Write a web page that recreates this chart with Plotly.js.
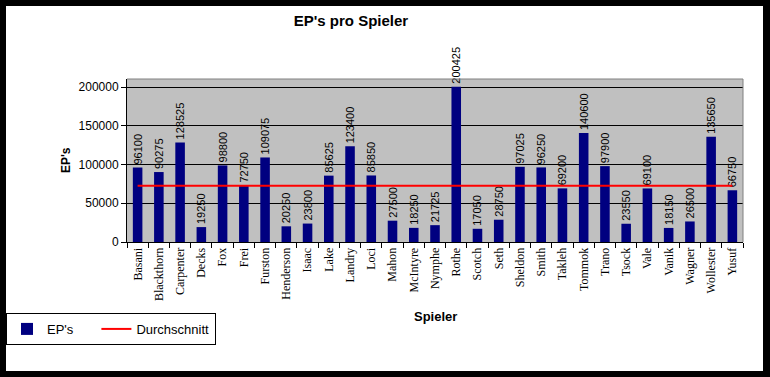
<!DOCTYPE html>
<html>
<head>
<meta charset="utf-8">
<script src="https://cdn.plot.ly/plotly-3.0.1.min.js"></script>
<style>
html,body{margin:0;padding:0;background:#fff;}
#wrap{width:770px;height:377px;box-sizing:border-box;border-style:solid;border-color:#000;border-width:6px 7px 6px 6px;background:#fff;overflow:hidden;}
#plot{width:757px;height:365px;}
</style>
</head>
<body>
<div id="wrap"><div id="plot"></div></div>
<script>
const spieler = ["Basani","Blackthorn","Carpenter","Decks","Fox","Frei","Furston","Henderson","Isaac","Lake","Landry","Loci","Mahon","McIntyre","Nymphe","Rothe","Scotch","Seth","Sheldon","Smith","Takleh","Tommok","Trano","Tsock","Vale","Vanik","Wagner","Wollester","Yusuf"];
const eps = [96100,90275,128525,19250,98800,72750,109075,20250,23800,85625,123400,85850,27500,18250,21725,200425,17050,28750,97025,96250,69200,140600,97900,23550,69100,18150,26500,135650,66750];
const durchschnitt = [72692,72692,72692,72692,72692,72692,72692,72692,72692,72692,72692,72692,72692,72692,72692,72692,72692,72692,72692,72692,72692,72692,72692,72692,72692,72692,72692,72692,72692];
const yTicks = [0,50000,100000,150000,200000];

const traces = [
  {
    type: 'bar', name: "EP's\u00a0\u00a0\u00a0\u00a0\u00a0", x: spieler, y: eps,
    marker: {color: '#000080'},
    text: eps.map(String), textposition: 'outside', textangle: -90, constraintext: 'none',
    textfont: {family: 'Liberation Sans, Arial, sans-serif', size: 11, color: '#000'},
    cliponaxis: false, hoverinfo: 'x+y'
  },
  {
    type: 'scatter', mode: 'lines', name: 'Durchschnitt', x: spieler, y: durchschnitt,
    line: {color: '#FF0000', width: 2}, cliponaxis: false
  }
];

const layout = {
  width: 757, height: 365,
  margin: {l: 121, r: 20, t: 73, b: 129, pad: 0, autoexpand: false},
  paper_bgcolor: '#FFFFFF', plot_bgcolor: '#C0C0C0',
  bargap: 0.55,
  showlegend: true,
  title: {text: "EP's pro Spieler", x: 0.4557, xref: 'container', y: 0.959, yref: 'container', xanchor: 'center', yanchor: 'middle',
          font: {family: 'Liberation Sans, Arial, sans-serif', size: 15, color: '#000', weight: 'bold'}},
  xaxis: {
    type: 'category', tickangle: -90, tickson: 'boundaries', ticks: 'outside', ticklen: 5, tickcolor: '#000',
    showline: true, linecolor: '#000', linewidth: 1, showgrid: false, zeroline: false,
    tickfont: {family: 'Liberation Serif, Times New Roman, serif', size: 12, color: '#000'},
    automargin: false
  },
  yaxis: {
    range: [0, 210323], tickvals: yTicks, ticktext: yTicks.map(String),
    ticks: 'outside', ticklen: 5, tickcolor: '#000',
    showline: true, linecolor: '#000', linewidth: 1,
    showgrid: true, gridcolor: '#000', gridwidth: 1, zeroline: false,
    tickfont: {family: 'Liberation Sans, Arial, sans-serif', size: 12, color: '#000'},
    automargin: false
  },
  legend: {
    orientation: 'h', xref: 'container', yref: 'container', x: 0, y: 0.159, xanchor: 'left', yanchor: 'top',
    bordercolor: '#000', borderwidth: 1, bgcolor: '#FFFFFF',
    font: {family: 'Liberation Sans, Arial, sans-serif', size: 13, color: '#000'},
    traceorder: 'normal'
  },
  shapes: [
    {type: 'line', xref: 'paper', yref: 'paper', x0: 0, x1: 1, y0: 1, y1: 1, line: {color: '#808080', width: 1}},
    {type: 'line', xref: 'paper', yref: 'paper', x0: 1, x1: 1, y0: 0, y1: 1, line: {color: '#808080', width: 1}}
  ],
  annotations: [
    {text: "EP's", xref: 'paper', yref: 'paper', x: -0.099, y: 0.503, xanchor: 'center', yanchor: 'middle', showarrow: false, textangle: -90,
     font: {family: 'Liberation Sans, Arial, sans-serif', size: 12, color: '#000', weight: 'bold'}},
    {text: 'Spieler', xref: 'paper', yref: 'paper', x: 0.5, y: -0.454, xanchor: 'center', yanchor: 'middle', showarrow: false,
     font: {family: 'Liberation Sans, Arial, sans-serif', size: 13, color: '#000', weight: 'bold'}}
  ]
};

Plotly.newPlot('plot', traces, layout, {displayModeBar: false, staticPlot: true});
</script>
</body>
</html>
